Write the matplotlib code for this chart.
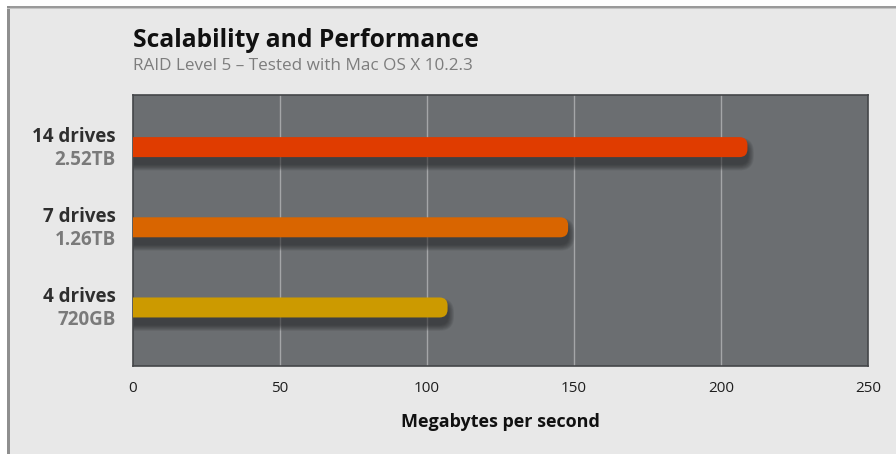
import matplotlib
matplotlib.use("Agg")
import matplotlib.pyplot as plt
from matplotlib.patches import FancyBboxPatch, Rectangle

# Data
configs = ["4 drives", "7 drives", "14 drives"]
capacities = ["720GB", "1.26TB", "2.52TB"]
throughput = [107, 148, 209]  # MB/s
bar_colors = ["#cc9a00", "#d96500", "#e03c00"]
xticks = [0, 50, 100, 150, 200, 250]

W, H = 896, 454
DPI = 100
FONT = ["Open Sans", "DejaVu Sans"]

fig = plt.figure(figsize=(W / DPI, H / DPI), dpi=DPI, facecolor="#e8e8e8")

# outer frame: white margin top/left with a grey rule
def px_rect(x0, y0, w, h, color):
    fig.patches.append(Rectangle((x0 / W, 1 - (y0 + h) / H), w / W, h / H,
                                 transform=fig.transFigure, color=color,
                                 zorder=0, lw=0))

px_rect(0, 0, W, 6, "white")
px_rect(0, 0, 7, H, "white")
px_rect(7, 6, W - 7, 3, "#9a9a9a")
px_rect(7, 6, 3, H - 6, "#8f8f8f")
px_rect(7, 8, W - 7, 1, "#c4c4c4")

L, R, T, B = 133, 868, 95, 366
ax = fig.add_axes([L / W, 1 - B / H, (R - L) / W, (B - T) / H])
ax.set_facecolor("#6b6e71")
ax.set_xlim(0, 250)
ax.set_ylim(-0.73, 2.65)

for s in ax.spines.values():
    s.set_color("#444649")
    s.set_linewidth(1.2)

ax.set_xticks(xticks)
ax.set_xticklabels([str(t) for t in xticks], family=FONT, fontsize=11,
                   color="#1e1e1e")
ax.tick_params(axis="x", length=0, pad=11)
ax.set_yticks([])
for t in xticks[1:-1]:
    ax.axvline(t, color="#a4a6a8", lw=1.0, zorder=1)

ax.set_xlabel("Megabytes per second", family=FONT, fontsize=13,
              fontweight="bold", color="#111111", labelpad=12)

# pixel -> data scale factors for rounded corners and shadows
xpp = 250 / (R - L)
ypp = (2.65 + 0.73) / (B - T)
aspect = ypp / xpp
bar_h = 20 * ypp
radius = 8 * xpp

for i, (v, c) in enumerate(zip(throughput, bar_colors)):
    # soft drop shadow, mostly below the bar
    n = 8
    for k in range(n):
        grow = (k + 1) * 0.8
        sh = FancyBboxPatch((-10, i - bar_h / 2 - 7 * ypp),
                            v + 10, bar_h,
                            boxstyle=f"round,pad={grow * xpp},rounding_size={radius + grow * xpp}",
                            mutation_aspect=aspect, facecolor="#1e1f21",
                            edgecolor="none", alpha=0.09, zorder=2)
        ax.add_patch(sh)
    bar = FancyBboxPatch((-10, i - bar_h / 2), v + 10, bar_h,
                         boxstyle=f"round,pad=0,rounding_size={radius}",
                         mutation_aspect=aspect, facecolor=c,
                         edgecolor="none", zorder=3)
    ax.add_patch(bar)

    # category labels
    ax.annotate(configs[i], xy=(0, i), xycoords=("axes fraction", "data"),
                xytext=(-17, 5), textcoords="offset pixels",
                ha="right", va="baseline", family=FONT, fontsize=13.5,
                fontweight="bold", color="#2e2e2e")
    ax.annotate(capacities[i], xy=(0, i), xycoords=("axes fraction", "data"),
                xytext=(-17, -17.5), textcoords="offset pixels",
                ha="right", va="baseline", family=FONT, fontsize=13.5,
                fontweight="bold", color="#7a7a7a")

fig.text(L / W, 1 - 47 / H, "Scalability and Performance", family=FONT,
         fontsize=17.7, fontweight="bold", color="#111111", ha="left",
         va="baseline")
fig.text(L / W, 1 - 70 / H, "RAID Level 5 \u2013 Tested with Mac OS X 10.2.3",
         family=FONT, fontsize=12.3, color="#7d7d7d", ha="left", va="baseline")

fig.savefig("out.png", dpi=DPI, facecolor=fig.get_facecolor())
